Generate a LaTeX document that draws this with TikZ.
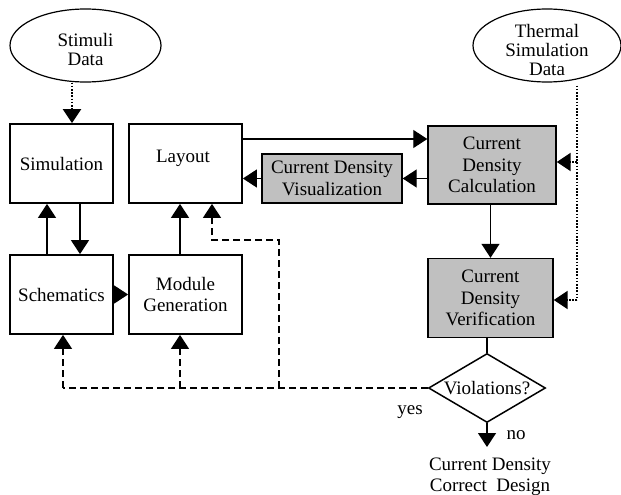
\documentclass[tikz,border=0pt]{standalone}
\usepackage{fontspec}
\setmainfont{Liberation Serif}
\usetikzlibrary{shapes.geometric,arrows.meta}
\definecolor{boxgray}{RGB}{192,192,192}
\begin{document}
\begin{tikzpicture}[x=1pt,y=-1pt,
  every node/.style={font=\fontsize{19}{21.5}\selectfont, align=center, inner sep=0pt},
  ovaltext/.style={font=\fontsize{19}{19}\selectfont},
  blk/.style={draw, line width=1.8pt, rectangle},
  gblk/.style={blk, fill=boxgray, line width=1.4pt},
  oval/.style={draw, ellipse, line width=1.2pt},
  conn/.style={line width=1.3pt},
  arr/.style={conn, -{Triangle[width=18pt,length=14pt]}},
  dots/.style={line width=2.2pt, dash pattern=on 1.6pt off 1.6pt},
  dotarr/.style={arr, dots},
  dsh/.style={conn, dash pattern=on 7pt off 4pt},
  dsharr/.style={arr, dash pattern=on 7pt off 4pt}]
\useasboundingbox (0,0) rectangle (621,495);

% ellipses
\node[oval, minimum width=151pt, minimum height=73pt] (stim) at (85.5,45.5) {};
\node[ovaltext] (stimtxt) at (85.5,50) {Stimuli\\Data};
\node[oval, minimum width=148pt, minimum height=73pt] (therm) at (547,45.5) {};
\node[ovaltext] (thermtxt) at (547,50) {Thermal\\Simulation\\Data};

% boxes
\node[blk, minimum width=103pt, minimum height=79pt] (sim) at (61.5,163.5) {Simulation};
\node[blk, minimum width=113pt, minimum height=79pt] (lay) at (185.5,163.5) {};
\node (laytxt) at (183,158) {Layout};
\node[blk, minimum width=103pt, minimum height=79pt] (sch) at (61.5,294.5) {Schematics};
\node[blk, minimum width=113pt, minimum height=79pt] (mod) at (185.5,294.5) {Module\\Generation};
\node[gblk, minimum width=140pt, minimum height=49pt] (vis) at (332,178.5) {Current Density\\Visualization};
\node[gblk, minimum width=128pt, minimum height=78pt] (calc) at (492,165) {Current\\Density\\Calculation};
\node[gblk, minimum width=125pt, minimum height=79pt] (ver) at (490.5,298) {Current\\Density\\Verification};
\node[draw, diamond, line width=1.5pt, minimum width=117pt, minimum height=69pt, aspect=1.7] (dia) at (487,388) {Violations?};
\node (res) at (490,477) {Current Density\\Correct\ \ Design};
\node (yes) at (410,412) {yes};
\node (no) at (516,435) {no};

% helper coordinates
\coordinate (x72) at (72,0);
\coordinate (x80) at (80,0);
\coordinate (x47) at (47,0);
\coordinate (x180) at (180,0);
\coordinate (x63) at (63,0);
\coordinate (x212) at (212,0);
\coordinate (x279) at (279,0);
\coordinate (x577) at (577,0);
\coordinate (y139) at (0,139);
\coordinate (y240) at (0,240);
\coordinate (noend) at (487,447);

% connectors
\draw[dotarr] (stim.south -| x72) -- (sim.north -| x72);
\draw[arr] (sim.south -| x80) -- (sch.north -| x80);
\draw[arr] (sch.north -| x47) -- (sim.south -| x47);
\draw[arr] (mod.north -| x180) -- (lay.south -| x180);
\draw[arr] (sch.east) -- (mod.west);
\draw[arr] (lay.east |- y139) -- (calc.west |- y139);
\draw[arr] (calc.west |- vis.east) -- (vis.east);
\draw[arr] (vis.west) -- (lay.east |- vis.west);
\draw[dots] ([yshift=-3pt]therm.south -| x577) -- ([yshift=-2pt]x577 |- ver.east);
\draw[dotarr] ([yshift=3pt]calc.east -| x577) -- ([yshift=3pt]calc.east);
\draw[dotarr] ([yshift=-2pt]ver.east -| x577) -- ([yshift=-2pt]ver.east);
\draw[arr] (calc.south -| ver.north) -- (ver.north);
\draw[conn] (ver.south -| dia.north) -- (dia.north);
\draw[arr] (dia.south) -- (noend);

% dashed feedback
\draw[dsh] (dia.west) -- (x63 |- dia.west);
\draw[dsharr] (x63 |- dia.west) -- (sch.south -| x63);
\draw[dsharr] (x180 |- dia.west) -- (mod.south -| x180);
\draw[dsharr] (x279 |- dia.west) -- (x279 |- y240) -- (x212 |- y240) -- (lay.south -| x212);
\end{tikzpicture}
\end{document}
